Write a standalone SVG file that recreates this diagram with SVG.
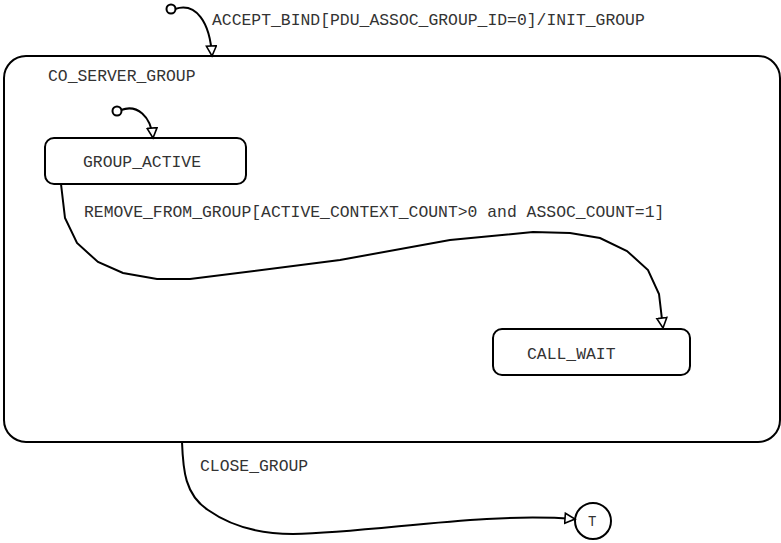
<svg xmlns="http://www.w3.org/2000/svg" width="781" height="543" viewBox="0 0 781 543">
<defs>
<style>
text{font-family:"Liberation Mono","Courier New",monospace;font-size:16.4px;fill:#333}
.st{fill:#fff;stroke:#000;stroke-width:2}
.ed{fill:none;stroke:#000;stroke-width:2}
.ini{fill:#fff;stroke:#000;stroke-width:2}
</style>
<marker id="arr" markerWidth="14" markerHeight="14" refX="11" refY="6" orient="auto" markerUnits="userSpaceOnUse">
<path d="M1,1 L11,6 L1,11 Z" fill="#fff" stroke="#000" stroke-width="1.6"/>
</marker>
</defs>
<rect width="781" height="543" fill="#fff"/>
<g id="co_server_group">
<rect class="st" x="4" y="56" width="776" height="386" rx="22"/>
<text x="48" y="81">CO_SERVER_GROUP</text>
</g>
<g id="group_active">
<rect class="st" x="45" y="138" width="201" height="46" rx="9"/>
<text x="83" y="167">GROUP_ACTIVE</text>
</g>
<g id="call_wait">
<rect class="st" x="493" y="329" width="197" height="46" rx="9"/>
<text x="527" y="359">CALL_WAIT</text>
</g>
<g id="terminal">
<circle class="st" cx="593" cy="521" r="18"/>
<text x="588" y="526" style="font-size:14px">T</text>
</g>
<g id="init_outer"><circle class="ini" cx="171" cy="9" r="4.5"/></g>
<g id="init_inner"><circle class="ini" cx="117" cy="111" r="4.5"/></g>
<g id="connectors">
<path class="ed" d="M175,9 C196,2 210,22 212,56" marker-end="url(#arr)"/>
<text x="212" y="25">ACCEPT_BIND[PDU_ASSOC_GROUP_ID=0]/INIT_GROUP</text>
<path class="ed" d="M121,110 C137,104 151,116 153,138" marker-end="url(#arr)"/>
<path class="ed" d="M61,184 L65,218 L77,243 L98,262 L123,273 L157,279 L190,279 L340,260 L450,240 L533,232 L570,233 L600,238 L627,251 L648,270 L659,294 L663,328" marker-end="url(#arr)"/>
<text x="84" y="217">REMOVE_FROM_GROUP[ACTIVE_CONTEXT_COUNT&gt;0 and ASSOC_COUNT=1]</text>
<path class="ed" d="M182,442 C183,470 185,495 208,510 C225,522 250,534 293,534 C380,532 480,512 575,519" marker-end="url(#arr)"/>
<text x="200" y="471">CLOSE_GROUP</text>
</g>
</svg>
